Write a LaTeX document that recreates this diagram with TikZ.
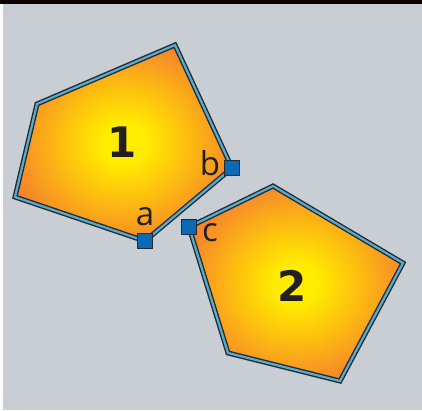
\documentclass[tikz,border=0pt]{standalone}
\usepackage{fontspec}
\setsansfont{Open Sans}
\newfontfamily\digitfont{DejaVu Sans}
\definecolor{bggray}{RGB}{201,205,212}
\definecolor{rimdark}{RGB}{38,42,46}
\definecolor{rimblue}{RGB}{84,172,208}
\definecolor{pinblue}{RGB}{12,106,180}
\definecolor{inkdark}{RGB}{35,31,32}
\definecolor{tileyellow}{RGB}{255,236,0}
\definecolor{tilemid}{RGB}{253,188,16}
\definecolor{tileorange}{RGB}{245,134,42}
\pgfdeclareradialshading{tileglow}{\pgfpoint{0bp}{0bp}}{color(0bp)=(tileyellow);
  color(5bp)=(tileyellow); color(15bp)=(tilemid); color(26bp)=(tileorange);
  color(50bp)=(tileorange)}

\begin{document}
\begin{tikzpicture}[x=1pt,y=-1pt,
    rim/.style={draw=rimdark,double=rimblue,double distance=2.2pt,line width=1.4pt,line join=miter},
    tile/.style={shading=tileglow},
    pin/.style={draw=rimdark,fill=pinblue,line width=1.5pt,minimum size=15pt,inner sep=0pt},
    tag/.style={font=\sffamily\fontsize{33}{33}\selectfont,text=inkdark,inner sep=0pt},
    num/.style={font=\digitfont\bfseries\fontsize{42}{42}\selectfont,text=inkdark,inner sep=0pt}]
  \useasboundingbox (0,0) rectangle (422,410);
  % background
  \fill[white] (0,0) rectangle (422,410);
  \fill[bggray] (3,4) rectangle (422,410);
  \fill[black!95!red] (0,0) rectangle (422,4);

  % pentagon 1
  \coordinate (p1) at (37,104);
  \coordinate (p2) at (175,45);
  \coordinate (vb) at (232,168);
  \coordinate (va) at (145,241);
  \coordinate (p5) at (15,197);
  \path[tile] (p1) -- (p2) -- (vb) -- (va) -- (p5) -- cycle;
  \draw[rim] (p1) -- (p2) -- (vb) -- (va) -- (p5) -- cycle;

  % pentagon 2
  \coordinate (vc) at (189,227);
  \coordinate (q2) at (273,186);
  \coordinate (q3) at (403,263);
  \coordinate (q4) at (340,381);
  \coordinate (q5) at (228,353);
  \path[tile] (vc) -- (q2) -- (q3) -- (q4) -- (q5) -- cycle;
  \draw[rim] (vc) -- (q2) -- (q3) -- (q4) -- (q5) -- cycle;

  \node[num] (one) at (122,142) {1};
  \node[num] (two) at (292,286) {2};

  \node[pin] (a) at (va) {};
  \node[pin] (b) at (vb) {};
  \node[pin] (c) at (vc) {};
  \node[tag] (la) at (145,217) {a};
  \node[tag] (lb) at (210,163) {b};
  \node[tag] (lc) at (210,233) {c};
\end{tikzpicture}
\end{document}
